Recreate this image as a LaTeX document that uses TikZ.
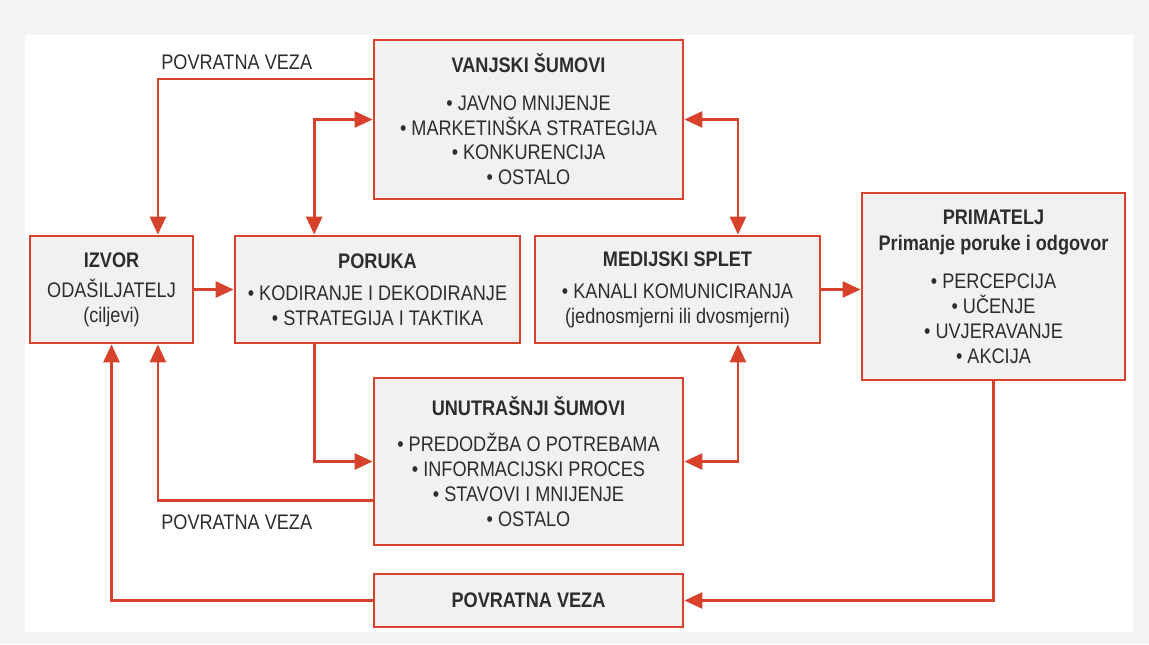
\documentclass[tikz,border=0pt]{standalone}
\usepackage{fontspec}
\setmainfont{Liberation Sans}[FakeStretch=0.86]
\usetikzlibrary{arrows.meta,calc}
\definecolor{linkRed}{RGB}{214,66,44}
\definecolor{boxFill}{RGB}{241,241,241}
\definecolor{inkGrey}{RGB}{45,45,45}
\definecolor{paperGrey}{RGB}{244,244,244}

\begin{document}
\begin{tikzpicture}[x=0.2mm,y=-0.2mm,
    font=\fontsize{12}{14.2}\selectfont,text=inkGrey,
    block/.style={draw=linkRed,line width=1.6pt,fill=boxFill,align=center,inner sep=2pt},
    link/.style={draw=linkRed,line width=1.6pt,>={Triangle[length=3.6mm,width=3.2mm]},->},
    both/.style={link,<->},
    lbl/.style={inner sep=0pt}]

    % page and panel
    \useasboundingbox (0,0) rectangle (1149,644);
    \fill[paperGrey] (0,0) rectangle (1149,644);
    \fill[white] (25,35) rectangle (1133,632);

    % the boxes
    \node[block,minimum width=61.8mm,minimum height=31.8mm] (vanjski) at (528.5,119.5)
      {\textbf{VANJSKI ŠUMOVI}\\[7pt] • JAVNO MNIJENJE\\ • MARKETINŠKA STRATEGIJA\\
       • KONKURENCIJA\\ • OSTALO};
    \node[block,minimum width=32.6mm,minimum height=21.4mm] (izvor) at (111.5,289.5)
      {\textbf{IZVOR}\\[3pt] ODAŠILJATELJ\\ (ciljevi)};
    \node[block,minimum width=57mm,minimum height=21.4mm] (poruka) at (377.5,289.5)
      {\textbf{PORUKA}\\[4pt] • KODIRANJE I DEKODIRANJE\\ • STRATEGIJA I TAKTIKA};
    \node[block,minimum width=57mm,minimum height=21.4mm] (medijski) at (677.5,289.5)
      {\textbf{MEDIJSKI SPLET}\\[4pt] • KANALI KOMUNICIRANJA\\ (jednosmjerni ili dvosmjerni)};
    \node[block,minimum width=52.6mm,minimum height=37.4mm] (primatelj) at (993.5,286.5)
      {\textbf{PRIMATELJ}\\[1pt] \textbf{Primanje poruke i odgovor}\\[7pt] • PERCEPCIJA\\
       • UČENJE\\ • UVJERAVANJE\\ • AKCIJA};
    \node[block,minimum width=61.8mm,minimum height=33.4mm] (unutarnji) at (528.5,461.5)
      {\textbf{UNUTRAŠNJI ŠUMOVI}\\[6pt] • PREDODŽBA O POTREBAMA\\ • INFORMACIJSKI PROCES\\
       • STAVOVI I MNIJENJE\\ • OSTALO};
    \node[block,minimum width=61.8mm,minimum height=10.6mm] (povratna) at (528.5,600.5)
      {\textbf{POVRATNA VEZA}};

    % forward flow
    \draw[link] (izvor.east) -- (poruka.west);
    \draw[link] (medijski.east) -- (medijski.east -| primatelj.west);
    \draw[link] ($(poruka.south west)!.28!(poruka.south east)$) |- (unutarnji.west);

    % noise to and from the channel
    \draw[both] (vanjski.west) -| ($(poruka.north west)!.28!(poruka.north east)$);
    \draw[both] (vanjski.east) -| ($(medijski.north west)!.71!(medijski.north east)$);
    \draw[both] (unutarnji.east) -| ($(medijski.south west)!.71!(medijski.south east)$);

    % feedback loops
    \draw[link] ($(vanjski.north west)!.25!(vanjski.south west)$)
      -| node[pos=.5,lbl,anchor=south west,xshift=.4mm,yshift=1.6mm] {POVRATNA VEZA}
      ($(izvor.north west)!.78!(izvor.north east)$);
    \draw[link] ($(unutarnji.north west)!.73!(unutarnji.south west)$)
      -| node[pos=.5,lbl,anchor=north west,xshift=.4mm,yshift=-2.6mm] {POVRATNA VEZA}
      ($(izvor.south west)!.78!(izvor.south east)$);
    \draw[link] (primatelj.south) |- (povratna.east);
    \draw[link] (povratna.west) -| (izvor.south);
  \end{tikzpicture}
\end{document}
